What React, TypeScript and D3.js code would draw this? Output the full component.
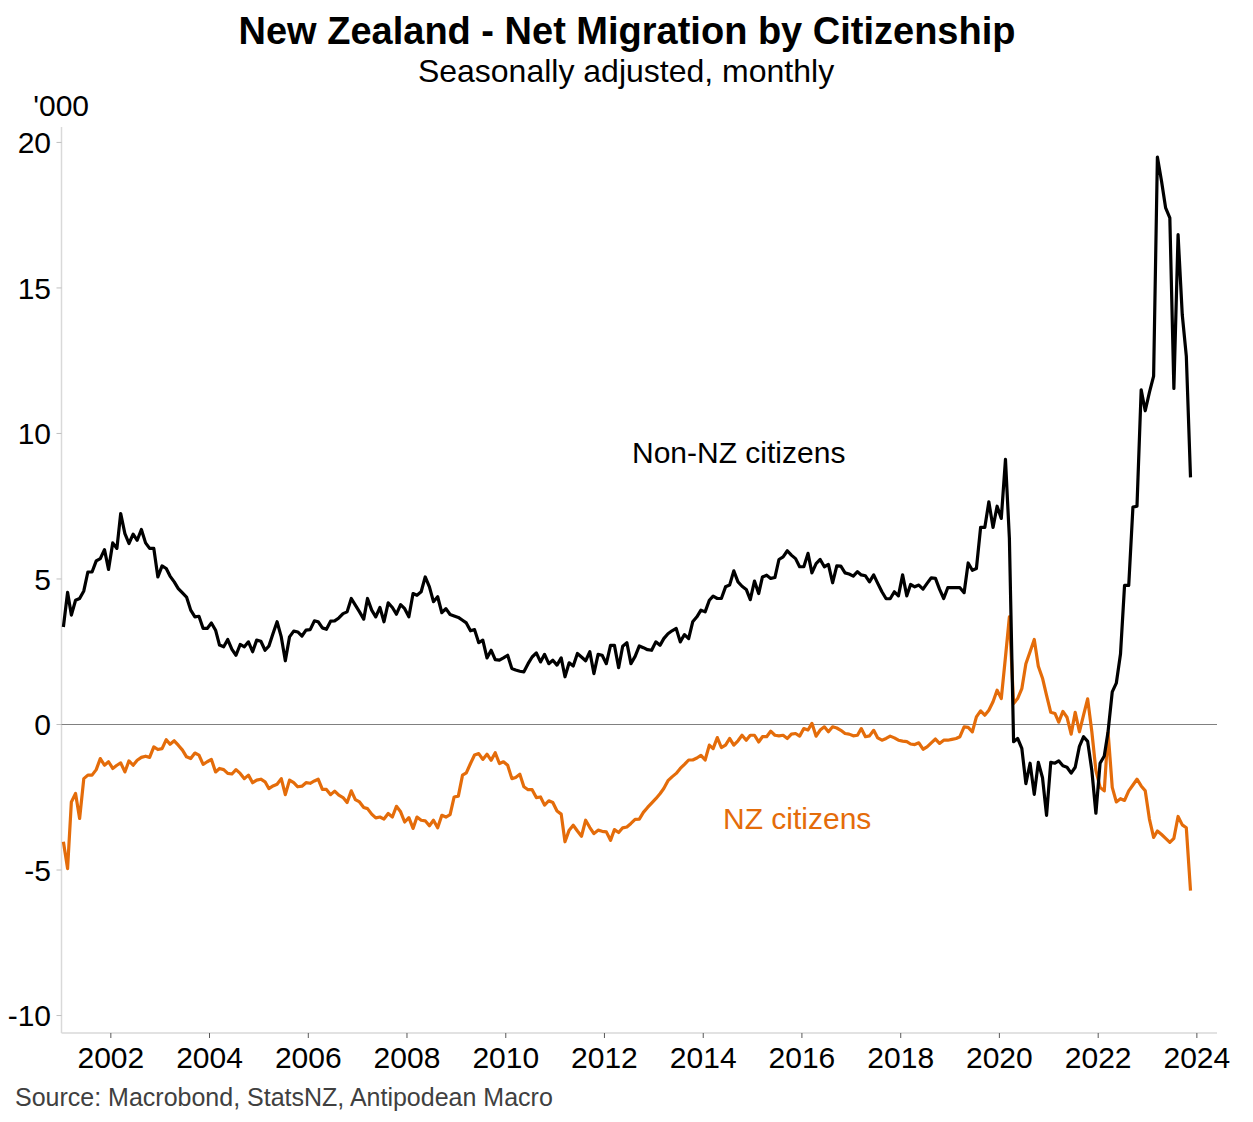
import React from "react";
import * as d3 from "d3";

// ---- Data (thousands, monthly, Jan 2001 .. Nov 2023) ----
const START_YEAR = 2001;
const START_MONTH = 0; // January

const nonNZCitizens: number[] = [
  3.35, 4.54, 3.76, 4.27, 4.33, 4.59, 5.24, 5.24, 5.62, 5.70, 6.01, 5.33,
  6.24, 6.05, 7.25, 6.56, 6.22, 6.54, 6.33, 6.70, 6.24, 6.05, 6.05, 5.07,
  5.45, 5.36, 5.10, 4.90, 4.67, 4.52, 4.38, 3.93, 3.70, 3.72, 3.30, 3.30,
  3.49, 3.24, 2.73, 2.67, 2.92, 2.58, 2.38, 2.75, 2.67, 2.84, 2.50, 2.90,
  2.86, 2.55, 2.69, 3.13, 3.53, 3.01, 2.19, 3.01, 3.21, 3.18, 3.04, 3.24,
  3.26, 3.56, 3.53, 3.32, 3.27, 3.55, 3.56, 3.66, 3.81, 3.87, 4.33, 4.10,
  3.87, 3.62, 4.33, 3.93, 3.70, 4.02, 3.53, 4.18, 4.02, 3.79, 4.12, 3.98,
  3.70, 4.50, 4.44, 4.56, 5.07, 4.73, 4.22, 4.39, 3.84, 3.98, 3.78, 3.73,
  3.68, 3.58, 3.49, 3.22, 3.26, 2.81, 2.90, 2.29, 2.55, 2.23, 2.21, 2.29,
  2.38, 1.92, 1.87, 1.83, 1.81, 2.09, 2.32, 2.46, 2.15, 2.41, 2.09, 2.21,
  2.04, 2.29, 1.64, 2.12, 2.01, 2.44, 2.32, 2.19, 2.50, 1.75, 2.41, 2.38,
  2.09, 2.72, 2.72, 1.95, 2.69, 2.81, 2.09, 2.34, 2.70, 2.64, 2.57, 2.55,
  2.84, 2.72, 2.95, 3.12, 3.22, 3.30, 2.84, 3.09, 2.95, 3.53, 3.70, 3.93,
  3.87, 4.27, 4.41, 4.33, 4.33, 4.73, 4.79, 5.28, 4.90, 4.75, 4.64, 4.29,
  4.93, 4.50, 5.07, 5.13, 5.02, 5.05, 5.67, 5.76, 5.97, 5.82, 5.70, 5.42,
  5.42, 5.88, 5.21, 5.53, 5.67, 5.42, 5.50, 4.87, 5.45, 5.44, 5.21, 5.17,
  5.10, 5.25, 5.14, 5.11, 4.90, 5.14, 4.85, 4.56, 4.32, 4.32, 4.56, 4.42,
  5.14, 4.42, 4.81, 4.73, 4.79, 4.65, 4.85, 5.04, 5.02, 4.65, 4.33, 4.70,
  4.70, 4.70, 4.70, 4.53, 5.55, 5.30, 5.36, 6.77, 6.77, 7.65, 6.77, 7.50,
  7.08, 9.11, 6.39, -0.59, -0.48, -0.82, -2.03, -1.33, -2.40, -1.30, -1.83, -3.12,
  -1.30, -1.33, -1.25, -1.42, -1.47, -1.67, -1.47, -0.75, -0.42, -0.58, -1.58, -3.05,
  -1.33, -1.08, -0.25, 1.12, 1.42, 2.42, 4.78, 4.78, 7.47, 7.50, 11.50, 10.78,
  11.41, 11.97, 19.50, 18.66, 17.75, 17.41, 11.55, 16.83, 14.08, 12.66, 8.49,
];

const nzCitizens: number[] = [
  -4.03, -4.95, -2.66, -2.37, -3.23, -1.86, -1.74, -1.74, -1.55, -1.17, -1.40, -1.28,
  -1.51, -1.40, -1.32, -1.63, -1.25, -1.40, -1.23, -1.13, -1.09, -1.13, -0.77, -0.86,
  -0.83, -0.52, -0.68, -0.56, -0.71, -0.88, -1.11, -1.17, -0.98, -1.05, -1.37, -1.28,
  -1.20, -1.63, -1.51, -1.55, -1.68, -1.70, -1.55, -1.68, -1.86, -1.74, -2.00, -1.91,
  -1.88, -1.97, -2.20, -2.11, -2.05, -1.86, -2.41, -1.91, -2.00, -2.14, -2.12, -2.00,
  -2.02, -1.94, -1.88, -2.23, -2.23, -2.41, -2.29, -2.43, -2.51, -2.68, -2.28, -2.58,
  -2.66, -2.85, -2.89, -3.08, -3.21, -3.18, -3.25, -3.06, -3.18, -2.81, -3.00, -3.35,
  -3.20, -3.57, -3.18, -3.29, -3.31, -3.48, -3.29, -3.55, -3.12, -3.18, -3.10, -2.49,
  -2.46, -1.74, -1.66, -1.34, -1.05, -1.00, -1.20, -1.02, -1.23, -0.97, -1.34, -1.28,
  -1.40, -1.86, -1.82, -1.71, -2.14, -2.24, -2.24, -2.51, -2.49, -2.77, -2.62, -2.68,
  -2.97, -3.08, -4.03, -3.63, -3.46, -3.66, -3.84, -3.29, -3.54, -3.75, -3.63, -3.67,
  -3.69, -3.98, -3.61, -3.71, -3.55, -3.52, -3.40, -3.26, -3.25, -3.02, -2.85, -2.70,
  -2.55, -2.38, -2.20, -1.93, -1.80, -1.68, -1.51, -1.37, -1.22, -1.22, -1.15, -1.06,
  -1.22, -0.71, -0.83, -0.45, -0.79, -0.71, -0.48, -0.71, -0.56, -0.37, -0.54, -0.37,
  -0.37, -0.60, -0.42, -0.42, -0.23, -0.37, -0.39, -0.37, -0.48, -0.33, -0.31, -0.40,
  -0.14, -0.19, 0.04, -0.40, -0.19, -0.08, -0.25, -0.08, -0.12, -0.20, -0.31, -0.33,
  -0.39, -0.37, -0.14, -0.42, -0.39, -0.20, -0.46, -0.54, -0.48, -0.40, -0.46, -0.54,
  -0.57, -0.59, -0.67, -0.69, -0.63, -0.85, -0.77, -0.63, -0.50, -0.65, -0.54, -0.54,
  -0.51, -0.48, -0.42, -0.08, -0.10, -0.25, 0.26, 0.47, 0.32, 0.49, 0.78, 1.18,
  0.89, 2.32, 3.70, 0.72, 0.89, 1.23, 2.09, 2.50, 2.92, 2.00, 1.59, 1.00,
  0.42, 0.38, 0.08, 0.45, 0.25, -0.33, 0.42, -0.25, 0.33, 0.88, -0.25, -1.58,
  -2.16, -2.28, -0.25, -2.16, -2.66, -2.55, -2.61, -2.28, -2.08, -1.88, -2.11, -2.28,
  -3.25, -3.88, -3.66, -3.78, -3.91, -4.05, -3.91, -3.16, -3.45, -3.55, -5.71,
];

const yTicks: number[] = [-10, -5, 0, 5, 10, 15, 20];
const xTickYears: number[] = [2002, 2004, 2006, 2008, 2010, 2012, 2014, 2016, 2018, 2020, 2022, 2024];

const TITLE = "New Zealand - Net Migration by Citizenship";
const SUBTITLE = "Seasonally adjusted, monthly";
const UNIT = "'000";
const SOURCE = "Source: Macrobond, StatsNZ, Antipodean Macro";
const LABEL_NON_NZ = "Non-NZ citizens";
const LABEL_NZ = "NZ citizens";

const BLACK = "#000000";
const ORANGE = "#e46c0a";
const FONT = "'Liberation Sans', Arial, Helvetica, sans-serif";

type Pt = { date: Date; value: number };

function toSeries(values: number[]): Pt[] {
  return values.map((v, i) => ({
    date: new Date(Date.UTC(START_YEAR, START_MONTH + i, 15)),
    value: v,
  }));
}

export default function App() {
  const W = 1253;
  const H = 1122;
  const left = 61.5;
  const right = 1217;
  const top = 127;
  const bottom = 1033;

  const x = d3
    .scaleUtc()
    .domain([new Date(Date.UTC(2001, 0, 1)), new Date(Date.UTC(2024, 4, 29))])
    .range([left, right]);
  const y = d3.scaleLinear().domain([-10.6, 20.53]).range([bottom, top]);

  const line = d3
    .line<Pt>()
    .x((d) => x(d.date))
    .y((d) => y(d.value));

  const nonNZ = toSeries(nonNZCitizens);
  const nz = toSeries(nzCitizens);

  return (
    <svg
      width={W}
      height={H}
      style={{ position: "absolute", left: 0, top: 0, background: "#fff" }}
      fontFamily={FONT}
    >
      <rect x={0} y={0} width={W} height={H} fill="#fff" />
      {/* Title */}
      <text x={627} y={44} textAnchor="middle" fontSize={38} fontWeight="bold" fill="#000">
        {TITLE}
      </text>
      <text x={626} y={82} textAnchor="middle" fontSize={32} fill="#000">
        {SUBTITLE}
      </text>
      <text x={89} y={116} textAnchor="end" fontSize={30} fill="#000">
        {UNIT}
      </text>

      {/* Axes */}
      <line x1={left} x2={left} y1={top} y2={bottom} stroke="#d9d9d9" strokeWidth={1.5} />
      <line x1={left} x2={right} y1={bottom} y2={bottom} stroke="#d9d9d9" strokeWidth={1.5} />
      {yTicks.map((t) => (
        <g key={t}>
          <line x1={left - 5} x2={left} y1={y(t)} y2={y(t)} stroke="#bfbfbf" strokeWidth={1} />
          <text x={51} y={y(t) + 10.7} textAnchor="end" fontSize={30} fill="#000">
            {t}
          </text>
        </g>
      ))}
      {xTickYears.map((yr) => {
        const xp = x(new Date(Date.UTC(yr, 0, 1)));
        return (
          <g key={yr}>
            <line x1={xp} x2={xp} y1={bottom} y2={bottom + 5} stroke="#595959" strokeWidth={1} />
            <text x={xp} y={1068} textAnchor="middle" fontSize={30} fill="#000">
              {yr}
            </text>
          </g>
        );
      })}

      {/* Zero line */}
      <line x1={left} x2={right} y1={y(0)} y2={y(0)} stroke="#808080" strokeWidth={1} />

      {/* Series */}
      <path d={line(nz) ?? ""} fill="none" stroke={ORANGE} strokeWidth={3.2} strokeLinejoin="round" />
      <path d={line(nonNZ) ?? ""} fill="none" stroke={BLACK} strokeWidth={3.2} strokeLinejoin="round" />

      {/* Labels */}
      <text x={632} y={463} fontSize={30} fill={BLACK}>
        {LABEL_NON_NZ}
      </text>
      <text x={723} y={829} fontSize={30} fill={ORANGE}>
        {LABEL_NZ}
      </text>

      {/* Source */}
      <text x={15} y={1106} fontSize={25} fill="#404040">
        {SOURCE}
      </text>
    </svg>
  );
}
